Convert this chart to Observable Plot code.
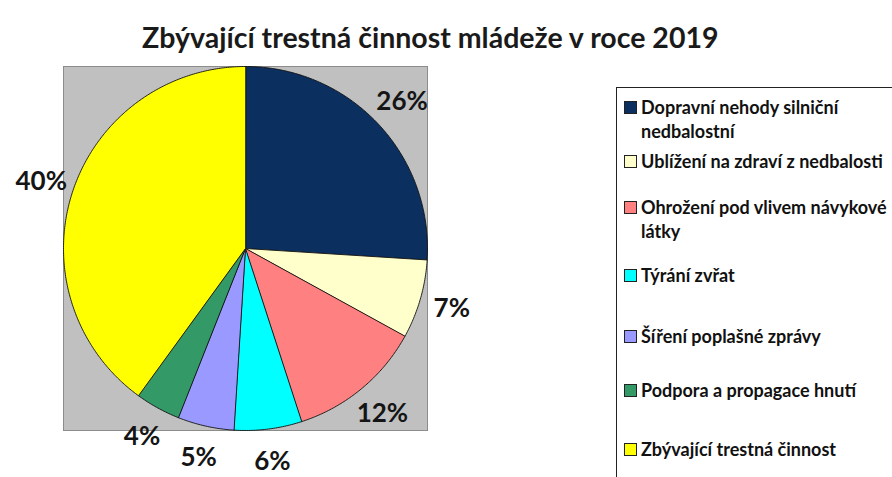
<!DOCTYPE html>
<html>
<head>
<meta charset="utf-8">
<script src="https://cdn.jsdelivr.net/npm/d3@7"></script>
<script src="https://cdn.jsdelivr.net/npm/@observablehq/plot@0.6"></script>
<style>
  html, body { margin: 0; padding: 0; background: #fff; overflow: hidden; width: 892px; height: 477px; }
  #wrap { position: relative; width: 892px; height: 477px; font-family: Lato, "Open Sans", sans-serif; }
  #title { height: 55px; box-sizing: border-box; padding-top: 20px; line-height: 34px; font-size: 28.5px; font-weight: 700; color: #1a1a1a; text-align: left; padding-left: 142px; white-space: nowrap; }
  #legend { position: absolute; left: 616px; top: 87px; width: 420px; height: 520px; border: 1.5px solid #222; box-sizing: border-box; background: #fff; }
  .item { position: absolute; left: 7px; display: flex; align-items: flex-start; font-size: 18px; font-weight: 700; color: #111; line-height: 24px; white-space: nowrap; }
  .sw { width: 11px; height: 11px; border: 1px solid #222; margin-top: 6px; margin-right: 4px; flex: none; }
</style>
</head>
<body>
<div id="wrap">
  <div id="title">Zbývající trestná činnost mládeže v roce 2019</div>
  <div id="chart"></div>
  <div id="legend"></div>
</div>
<script>
// ---- data ----
const categories = [
  "Dopravní nehody silniční nedbalostní",
  "Ublížení na zdraví z nedbalosti",
  "Ohrožení pod vlivem návykové látky",
  "Týrání zvřat",
  "Šíření poplašné zprávy",
  "Podpora a propagace hnutí",
  "Zbývající trestná činnost"
];
const legendLines = [
  ["Dopravní nehody silniční", "nedbalostní"],
  ["Ublížení na zdraví z nedbalosti"],
  ["Ohrožení pod vlivem návykové", "látky"],
  ["Týrání zvřat"],
  ["Šíření poplašné zprávy"],
  ["Podpora a propagace hnutí"],
  ["Zbývající trestná činnost"]
];
const values = [26, 7, 12, 6, 5, 4, 40];
const valueLabels = ["26%", "7%", "12%", "6%", "5%", "4%", "40%"];
const colors = ["#0b2f5f", "#ffffcc", "#ff8080", "#00ffff", "#9999ff", "#339966", "#ffff00"];

// ---- geometry from d3.pie ----
const rows = categories.map((c, i) => ({cat: c, value: values[i], label: valueLabels[i]}));
const arcs = d3.pie().sort(null).value(d => d.value)(rows);
const slicePts = [];
const labelPts = [];
const labelR = 1.18;
arcs.forEach(a => {
  const cat = a.data.cat;
  slicePts.push({cat, x: 0, y: 0});
  const n = Math.max(2, Math.ceil((a.endAngle - a.startAngle) / 0.01));
  for (let k = 0; k <= n; k++) {
    const t = a.startAngle + (a.endAngle - a.startAngle) * k / n;
    slicePts.push({cat, x: Math.sin(t), y: Math.cos(t)});
  }
  const m = (a.startAngle + a.endAngle) / 2;
  labelPts.push({label: a.data.label, x: labelR * Math.sin(m), y: labelR * Math.cos(m)});
});

const W = 892, H = 422;
const chart = Plot.plot({
  width: W,
  height: H,
  marginLeft: 63,
  marginRight: 465,
  marginTop: 11,
  marginBottom: 47,
  style: {fontFamily: "Lato, 'Open Sans', sans-serif", background: "transparent", overflow: "visible"},
  x: {domain: [-1, 1], axis: null},
  y: {domain: [-1, 1], axis: null},
  color: {domain: categories, range: colors},
  marks: [
    Plot.frame({fill: "#c0c0c0", stroke: "#8c8c8c"}),
    Plot.line(slicePts, {x: "x", y: "y", z: "cat", fill: "cat", stroke: "#111", strokeWidth: 0.9, curve: "linear-closed"}),
    Plot.text(labelPts, {x: "x", y: "y", text: "label", fontSize: 26, fontWeight: 700, fill: "#151515"})
  ]
});
document.getElementById("chart").appendChild(chart);

// ---- legend (HTML) ----
const legendTops = [7, 61, 107, 175, 236, 290, 349];
const legend = document.getElementById("legend");
categories.forEach((c, i) => {
  const item = document.createElement("div");
  item.className = "item";
  item.style.top = legendTops[i] + "px";
  const sw = document.createElement("div");
  sw.className = "sw";
  sw.style.background = colors[i];
  const tx = document.createElement("div");
  tx.innerHTML = legendLines[i].join("<br>");
  item.appendChild(sw);
  item.appendChild(tx);
  legend.appendChild(item);
});
</script>
</body>
</html>
